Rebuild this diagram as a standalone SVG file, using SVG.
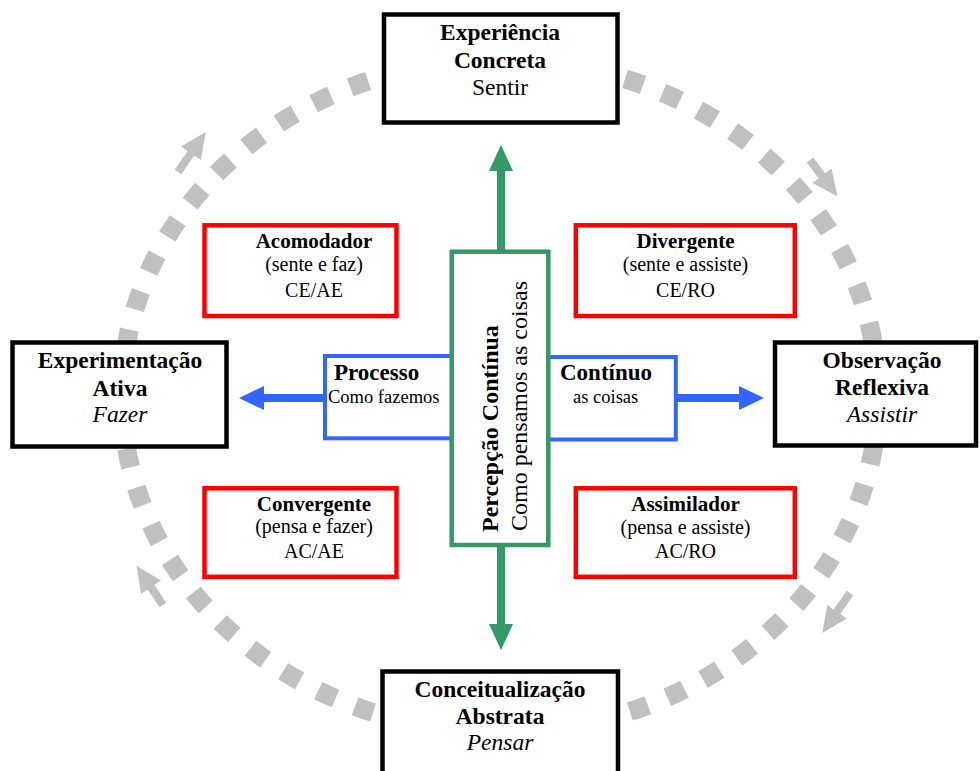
<svg xmlns="http://www.w3.org/2000/svg" width="980" height="771" viewBox="0 0 980 771">
  <style>
    text { font-family: "Liberation Serif", "Times New Roman", serif; fill: #000; }
    .b { font-weight: bold; }
    .i { font-style: italic; }
    .mid { text-anchor: middle; }
    .main { font-size: 23.5px; }
    .style { font-size: 21px; }
    .styleSub { font-size: 20px; }
    .axis { font-size: 23px; }
    .axisSub { font-size: 18.5px; }
    .vert { font-size: 24px; }
    .pole { fill: #fff; stroke: #000; stroke-width: 4.5; }
    .quad { fill: #fff; stroke: #ff0000; stroke-width: 4.5; }
    .proc { fill: #fff; stroke: #3366ff; stroke-width: 4; }
    .perc { fill: #fff; stroke: #339966; stroke-width: 4.5; }
    .cycle { fill: none; stroke: #c0c0c0; stroke-width: 19; stroke-dasharray: 19 21; stroke-dashoffset: 30; }
    .turn { stroke: #c0c0c0; stroke-width: 8; fill: none; marker-end: url(#headGray); }
    .hArrow { stroke: #3366ff; stroke-width: 8; fill: none; marker-end: url(#headBlue); }
    .vArrow { stroke: #339966; stroke-width: 8; fill: none; marker-end: url(#headGreen); }
  </style>
  <defs>
    <marker id="headGray" markerUnits="userSpaceOnUse" markerWidth="26" markerHeight="24" refX="1" refY="12" orient="auto">
      <path d="M0,0 L26,12 L0,24 Z" fill="#c0c0c0"/>
    </marker>
    <marker id="headBlue" markerUnits="userSpaceOnUse" markerWidth="25" markerHeight="24" refX="1" refY="12" orient="auto">
      <path d="M0,0 L25,12 L0,24 Z" fill="#3366ff"/>
    </marker>
    <marker id="headGreen" markerUnits="userSpaceOnUse" markerWidth="26" markerHeight="24" refX="1" refY="12" orient="auto">
      <path d="M0,0 L26,12 L0,24 Z" fill="#339966"/>
    </marker>
  </defs>

  <!-- learning cycle ring (clockwise) -->
  <g id="connectors">
    <ellipse class="cycle" cx="500" cy="396" rx="378" ry="336"/>
    <line class="turn" x1="178" y1="172" x2="191.5" y2="152.5"/>
    <line class="turn" x1="810" y1="160" x2="822.5" y2="176.5"/>
    <line class="turn" x1="850" y1="593" x2="836.5" y2="612.5"/>
    <line class="turn" x1="163" y1="605" x2="150.5" y2="586.5"/>
    <!-- perception axis -->
    <line class="vArrow" x1="501" y1="252" x2="501" y2="170"/>
    <line class="vArrow" x1="501" y1="545" x2="501" y2="625"/>
    <!-- processing axis -->
    <line class="hArrow" x1="325" y1="398" x2="263" y2="398"/>
    <line class="hArrow" x1="676" y1="398" x2="740" y2="398"/>
  </g>

  <!-- learning poles -->
  <g id="experiencia-concreta">
    <rect class="pole" x="384" y="14.5" width="233.5" height="108"/>
    <text class="main b mid" x="500" y="39.5">Experiência</text>
    <text class="main b mid" x="500" y="67.5">Concreta</text>
    <text class="main mid" x="500" y="95">Sentir</text>
  </g>
  <g id="experimentacao-ativa">
    <rect class="pole" x="12.5" y="342.5" width="214" height="104"/>
    <text class="main b mid" x="120" y="368">Experimentação</text>
    <text class="main b mid" x="120" y="396">Ativa</text>
    <text class="main i mid" x="120" y="422">Fazer</text>
  </g>
  <g id="observacao-reflexiva">
    <rect class="pole" x="775" y="342.5" width="201" height="103"/>
    <text class="main b mid" x="882" y="368">Observação</text>
    <text class="main b mid" x="882" y="395">Reflexiva</text>
    <text class="main i mid" x="882" y="422">Assistir</text>
  </g>
  <g id="conceitualizacao-abstrata">
    <rect class="pole" x="382.5" y="671.5" width="235.5" height="110"/>
    <text class="main b mid" x="500" y="697">Conceitualização</text>
    <text class="main b mid" x="500" y="724">Abstrata</text>
    <text class="main i mid" x="500" y="750">Pensar</text>
  </g>

  <!-- learning styles -->
  <g id="acomodador">
    <rect class="quad" x="204.5" y="225.3" width="192" height="90.7"/>
    <text class="style b mid" x="314" y="248">Acomodador</text>
    <text class="styleSub mid" x="314" y="271">(sente e faz)</text>
    <text class="styleSub mid" x="314" y="297">CE/AE</text>
  </g>
  <g id="divergente">
    <rect class="quad" x="575.8" y="225.3" width="219" height="90.7"/>
    <text class="style b mid" x="685.5" y="248">Divergente</text>
    <text class="styleSub mid" x="685.5" y="271">(sente e assiste)</text>
    <text class="styleSub mid" x="685.5" y="297">CE/RO</text>
  </g>
  <g id="convergente">
    <rect class="quad" x="204.5" y="488.3" width="192" height="88.5"/>
    <text class="style b mid" x="314" y="511">Convergente</text>
    <text class="styleSub mid" x="314" y="533">(pensa e fazer)</text>
    <text class="styleSub mid" x="314" y="558">AC/AE</text>
  </g>
  <g id="assimilador">
    <rect class="quad" x="575.8" y="488.3" width="219" height="88.5"/>
    <text class="style b mid" x="685.5" y="511">Assimilador</text>
    <text class="styleSub mid" x="685.5" y="534">(pensa e assiste)</text>
    <text class="styleSub mid" x="685.5" y="558">AC/RO</text>
  </g>

  <!-- processing continuum -->
  <g id="processo">
    <rect class="proc" x="325" y="356" width="140" height="82.3"/>
    <text class="axis b" x="334" y="380">Processo</text>
    <text class="axisSub" x="328" y="403">Como fazemos</text>
  </g>
  <g id="continuo">
    <rect class="proc" x="535" y="357" width="140.8" height="82.5"/>
    <text class="axis b" x="560" y="380">Contínuo</text>
    <text class="axisSub" x="573" y="403">as coisas</text>
  </g>

  <!-- perception continuum -->
  <g id="percepcao-continua">
    <rect class="perc" x="451.7" y="251.7" width="96.6" height="293.3"/>
    <text class="vert b" transform="translate(498,532) rotate(-90)">Percepção Contínua</text>
    <text class="vert" transform="translate(527,531) rotate(-90)">Como pensamos as coisas</text>
  </g>
</svg>
